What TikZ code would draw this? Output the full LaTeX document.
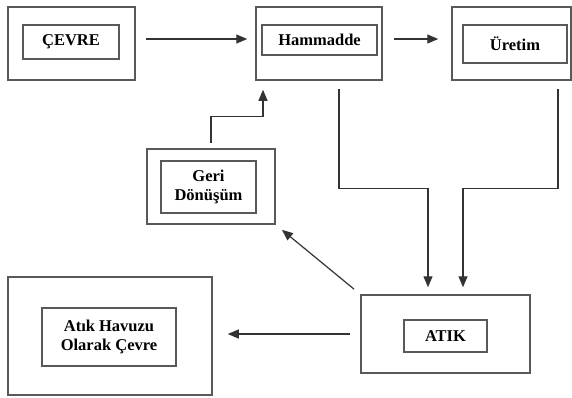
\documentclass[tikz,border=0pt]{standalone}
\usepackage{fontspec}
\setmainfont{Liberation Serif}
\usetikzlibrary{arrows.meta}
\begin{document}
\begin{tikzpicture}[x=1pt, y=1pt,
	outerbox/.style={draw=black!65, line width=1.5pt, inner sep=0pt},
	innerbox/.style={draw=black!65, line width=1.4pt, inner sep=0pt, align=center,
		font=\fontsize{16.5}{19}\selectfont\bfseries},
	arr/.style={-{Triangle[length=11pt, width=9pt]}, draw=black!80, line width=1.2pt}]
	\useasboundingbox (0,0) rectangle (572,-397);

	\node[outerbox, minimum width=127, minimum height=73] (cevre)  at (71.5,-43.5) {};
	\node[innerbox, minimum width=96,  minimum height=34] (cevrei) at (71,-42)     {ÇEVRE};

	\node[outerbox, minimum width=126, minimum height=73] (ham)    at (319,-43.5)  {};
	\node[innerbox, minimum width=115, minimum height=30] (hami)   at (319.5,-40)  {Hammadde};

	\node[outerbox, minimum width=119, minimum height=73] (uret)   at (511.5,-43.5) {};
	\node[innerbox, minimum width=104, minimum height=38] (ureti)  at (515,-44)    {Üretim};

	\node[outerbox, minimum width=128, minimum height=75] (geri)   at (211,-186.5) {};
	\node[innerbox, minimum width=95,  minimum height=52] (gerii)  at (208.5,-187) {Geri\\Dönüşüm};

	\node[outerbox, minimum width=204, minimum height=118] (havuz)  at (110,-336)  {};
	\node[innerbox, minimum width=134, minimum height=58]  (havuzi) at (109,-337)  {Atık Havuzu\\Olarak Çevre};

	\node[outerbox, minimum width=169, minimum height=78] (atik)   at (445.5,-334) {};
	\node[innerbox, minimum width=83,  minimum height=32] (atiki)  at (445.5,-336) {ATIK};

	\draw [arr, shorten <=10pt, shorten >=8pt] ([yshift=4.5pt]cevre.east) -- ([yshift=4.5pt]ham.west);
	\draw [arr, shorten <=11pt, shorten >=13pt] ([yshift=4.5pt]ham.east) -- ([yshift=4.5pt]uret.west);
	\draw [arr, shorten <=5pt, shorten >=9pt] (geri.north) -- ++(0,32) -| ([xshift=-56pt]ham.south);
	\draw [arr, shorten <=8pt, shorten >=7pt] ([xshift=20pt]ham.south) -- ++(0,-108) -| ([xshift=-17.5pt]atik.north);
	\draw [arr, shorten <=8pt, shorten >=7pt] ([xshift=46.5pt]uret.south) -- ++(0,-108) -| ([xshift=17.5pt]atik.north);
	\draw [arr, shorten <=8pt, shorten >=8pt] (atik.north west) -- (geri.south east);
	\draw [arr, shorten <=10pt, shorten >=15pt] (atik.west) -- (atik.west -| havuz.east);
\end{tikzpicture}
\end{document}
